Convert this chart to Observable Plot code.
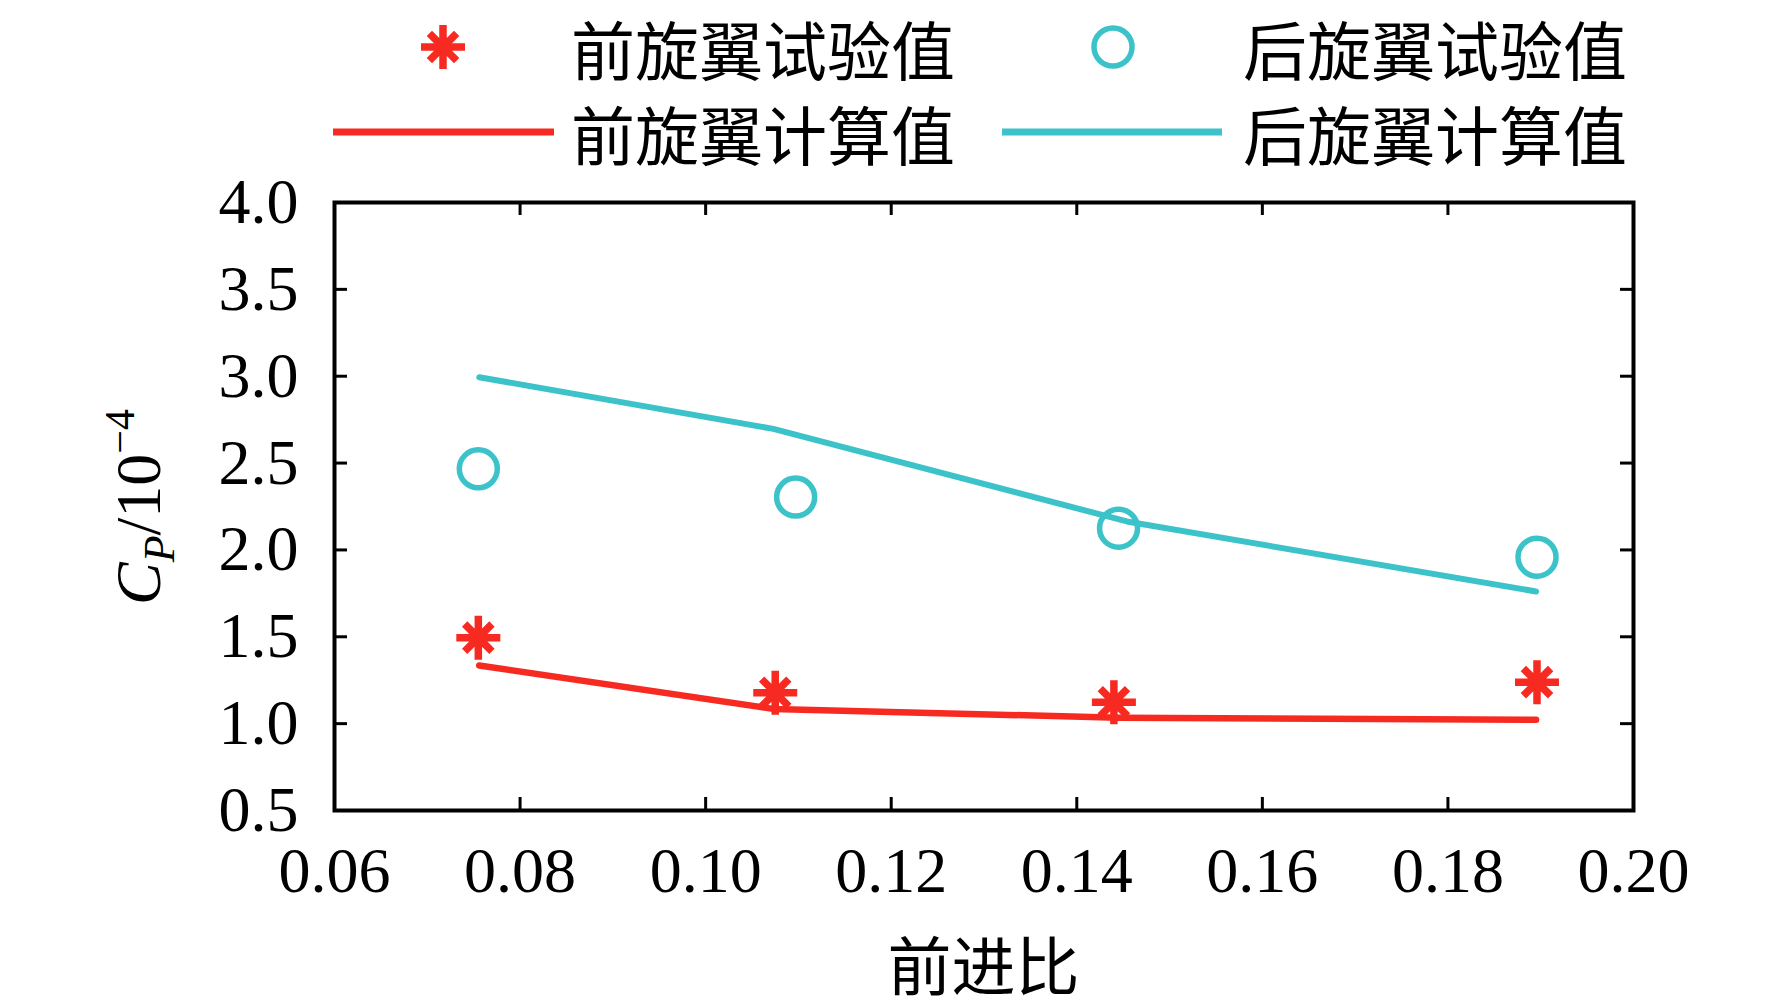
<!DOCTYPE html>
<html>
<head>
<meta charset="utf-8">
<script src="https://cdn.jsdelivr.net/npm/d3@7"></script>
<script src="https://cdn.jsdelivr.net/npm/@observablehq/plot@0.6"></script>
<style>
  html, body { margin: 0; padding: 0; background: #fff; overflow: hidden; }
  #wrap { width: 1772px; height: 1005px; position: relative; }
  #legend { position: relative; width: 1772px; height: 175px; font-family: "Noto Sans CJK SC", sans-serif; font-size: 64px; color: #000; }
  .lg { position: absolute; line-height: 1; white-space: nowrap; }
  .sw { position: absolute; }
</style>
</head>
<body>
<div id="wrap">
  <div id="legend"></div>
  <div id="chart"></div>
</div>
<script>
// ---- data ----
const seriesNames = ["前旋翼试验值", "后旋翼试验值", "前旋翼计算值", "后旋翼计算值"];
const frontExpJ  = [0.0755, 0.1075, 0.1440, 0.1896];
const frontExpCp = [1.495, 1.178, 1.123, 1.239];
const rearExpJ   = [0.0755, 0.1097, 0.1445, 0.1896];
const rearExpCp  = [2.467, 2.304, 2.125, 1.958];
const frontCalJ  = [0.0756, 0.1073, 0.1445, 0.1895];
const frontCalCp = [1.335, 1.085, 1.034, 1.022];
const rearCalJ   = [0.0756, 0.1073, 0.1454, 0.1895];
const rearCalCp  = [2.994, 2.697, 2.164, 1.761];
const xTicks = [0.06, 0.08, 0.10, 0.12, 0.14, 0.16, 0.18, 0.20];
const yTicks = [0.5, 1.0, 1.5, 2.0, 2.5, 3.0, 3.5, 4.0];
const xTitle = "前进比";

const RED = "#f72a22";
const CYAN = "#3cc3c9";

const zip = (xs, ys) => xs.map((x, i) => ({x, y: ys[i]}));
const frontExp = zip(frontExpJ, frontExpCp);
const rearExp = zip(rearExpJ, rearExpCp);
const frontCal = zip(frontCalJ, frontCalCp);
const rearCal = zip(rearCalJ, rearCalCp);

// 8-arm asterisk symbol (plus + cross)
const star8 = {
  draw(ctx, size) {
    const r = Math.sqrt(size / Math.PI);
    const d = r * 0.62;
    ctx.moveTo(0, -r); ctx.lineTo(0, r);
    ctx.moveTo(-r, 0); ctx.lineTo(r, 0);
    ctx.moveTo(-d, -d); ctx.lineTo(d, d);
    ctx.moveTo(-d, d); ctx.lineTo(d, -d);
  }
};

const W = 1772, H = 830;
const mL = 334, mR = 139, mT = 27, mB = 195;
const fW = W - mL - mR, fH = H - mT - mB;
const TL = 13;

const plot = Plot.plot({
  width: W, height: H,
  marginLeft: mL, marginRight: mR, marginTop: mT, marginBottom: mB,
  style: {fontFamily: "'Liberation Serif', 'Times New Roman', serif", fontSize: "64px", color: "#000", background: "#fff", overflow: "visible"},
  x: {domain: [0.06, 0.20]},
  y: {domain: [0.5, 4.0]},
  marks: [
    Plot.axisX({ticks: xTicks, tickFormat: d => d.toFixed(2), tickSize: 0, tickPadding: 36, label: null, fontSize: 64}),
    Plot.axisY({ticks: yTicks, tickFormat: d => d.toFixed(1), tickSize: 0, tickPadding: 36, label: null, fontSize: 64}),
    Plot.tickX(xTicks, {x: d => d, insetTop: fH - TL, stroke: "#000", strokeWidth: 3}),
    Plot.tickX(xTicks, {x: d => d, insetBottom: fH - TL, stroke: "#000", strokeWidth: 3}),
    Plot.tickY(yTicks, {y: d => d, insetRight: fW - TL, stroke: "#000", strokeWidth: 3}),
    Plot.tickY(yTicks, {y: d => d, insetLeft: fW - TL, stroke: "#000", strokeWidth: 3}),
    Plot.line(rearCal, {x: "x", y: "y", stroke: CYAN, strokeWidth: 6, strokeLinejoin: "round"}),
    Plot.line(frontCal, {x: "x", y: "y", stroke: RED, strokeWidth: 6.5, strokeLinejoin: "round"}),
    Plot.dot(rearExp, {x: "x", y: "y", r: 19, stroke: CYAN, strokeWidth: 5.5, fill: "none"}),
    Plot.dot(frontExp, {x: "x", y: "y", r: 22, symbol: star8, stroke: RED, strokeWidth: 7.5, fill: "none"}),
    Plot.frame({stroke: "#000", strokeWidth: 4})
  ]
});
document.getElementById("chart").appendChild(plot);

// axis titles
const svg = d3.select(plot);
const yl = svg.append("text")
  .attr("transform", `translate(160,${mT + fH / 2 + 1}) rotate(-90)`)
  .attr("text-anchor", "middle")
  .attr("font-family", "'Liberation Serif', serif")
  .attr("font-size", 64)
  .attr("fill", "#000");
yl.append("tspan").attr("font-style", "italic").text("C");
yl.append("tspan").attr("font-style", "italic").attr("font-size", 44).attr("dy", 14).text("P");
yl.append("tspan").attr("dy", -14).text("/10");
yl.append("tspan").attr("font-size", 42).attr("dy", -26).text("\u22124");

svg.append("text")
  .attr("x", mL + fW / 2)
  .attr("y", 787)
  .attr("text-anchor", "middle")
  .attr("dominant-baseline", "central")
  .attr("font-family", "'Noto Sans CJK SC', sans-serif")
  .attr("font-size", 64)
  .attr("fill", "#000")
  .text(xTitle);

// legend
const legend = d3.select("#legend");
function swatch(left, top, w, h, drawFn) {
  const s = legend.append("svg").attr("class", "sw")
    .style("left", left + "px").style("top", top + "px")
    .attr("width", w).attr("height", h);
  drawFn(s);
}
// row 1: experimental markers
swatch(413, 17, 60, 60, s => s.append("path")
  .attr("d", (() => { const p = d3.path(); star8.draw(p, 22 * 22 * Math.PI); return p.toString(); })())
  .attr("transform", "translate(30,30)").attr("stroke", RED).attr("stroke-width", 7.5).attr("fill", "none"));
swatch(1083, 17, 60, 60, s => s.append("circle").attr("cx", 30).attr("cy", 30).attr("r", 19)
  .attr("stroke", CYAN).attr("stroke-width", 5.5).attr("fill", "none"));
// row 2: computed lines
swatch(333, 122, 221, 20, s => s.append("line").attr("x1", 0).attr("x2", 221).attr("y1", 10).attr("y2", 10)
  .attr("stroke", RED).attr("stroke-width", 7));
swatch(1002, 122, 220, 20, s => s.append("line").attr("x1", 0).attr("x2", 220).attr("y1", 10).attr("y2", 10)
  .attr("stroke", CYAN).attr("stroke-width", 7));

const labelPos = [[571, 15], [1243, 15], [571, 100], [1243, 100]];
seriesNames.forEach((n, i) => {
  legend.append("div").attr("class", "lg")
    .style("left", labelPos[i][0] + "px").style("top", labelPos[i][1] + "px")
    .text(n);
});
</script>
</body>
</html>
